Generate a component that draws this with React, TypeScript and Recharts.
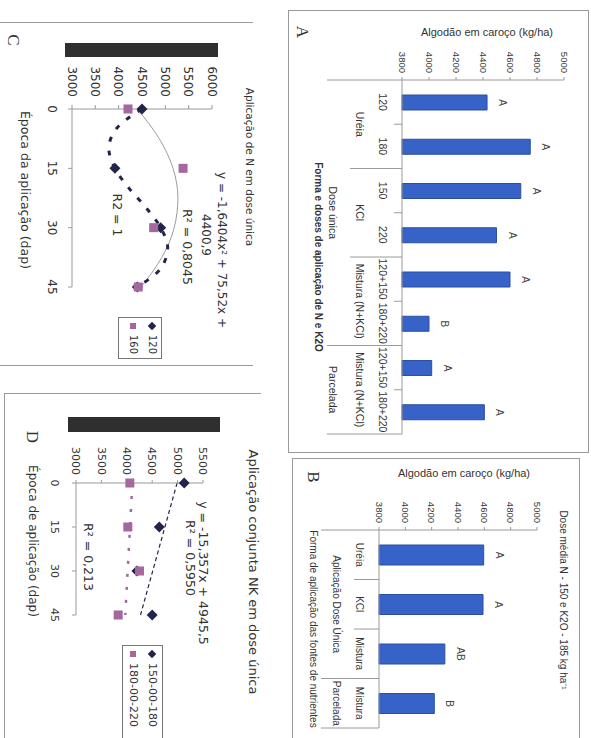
import React from "react";
import { BarChart, Bar, XAxis, YAxis, LabelList, ComposedChart, Line, Scatter } from "recharts";

// Painel A - forma e doses de aplicação de N e K2O
const aDoses = ["120", "180", "150", "220", "120+150", "180+220", "120+150", "180+220"];
const aFontes = ["Uréia", "Uréia", "KCl", "KCl", "Mistura (N+KCl)", "Mistura (N+KCl)", "Mistura (N+KCl)", "Mistura (N+KCl)"];
const aModos = ["Dose única", "Dose única", "Dose única", "Dose única", "Dose única", "Dose única", "Parcelada", "Parcelada"];
const aYield = [4430, 4750, 4680, 4500, 4600, 4000, 4020, 4410];
const aLetters = ["A", "A", "A", "A", "A", "B", "A", "A"];
const yieldTicks = [3800, 4000, 4200, 4400, 4600, 4800, 5000];

// Painel B - fontes de nutrientes
const bFontes = ["Uréia", "KCl", "Mistura", "Mistura"];
const bModos = ["Aplicação Dose Única", "Aplicação Dose Única", "Aplicação Dose Única", "Parcelada"];
const bYield = [4595, 4590, 4300, 4220];
const bLetters = ["A", "A", "AB", "B"];

// Painel C - N em dose única
const epocas = [0, 15, 30, 45];
const c120 = [4500, 3920, 4900, 4400];
const c160 = [4200, 5380, 4750, 4420];
const c120CurveX = [0, 5, 10, 15, 20, 25, 30, 35, 40, 45];
const c120Curve = [4500, 3950, 3790, 3920, 4220, 4590, 4900, 5050, 4920, 4400];
const c160CurveX = [0, 7.5, 15, 22.5, 30, 37.5, 45];
const c160Curve = [4400, 4870, 5165, 5270, 5190, 4925, 4480];
const cTicks = [3000, 3500, 4000, 4500, 5000, 5500, 6000];

// Painel D - NK em dose única
const d150 = [5130, 4640, 4200, 4500];
const d180 = [4060, 4020, 4250, 3830];
const dTrendX = [0, 45];
const d150Trend = [4990, 4270];
const d180Trend = [4110, 3970];
const dTicks = [3000, 3500, 4000, 4500, 5000, 5500];

const FONT = '"Liberation Sans", Arial, sans-serif';
const WIDE = '"DejaVu Sans", Verdana, sans-serif';
const SERIF = '"Liberation Serif", "Times New Roman", serif';
const INK = "#333";
const AXIS = "#9a9a9a";
const BLUE = "#3762C8";
const NAVY = "#22244A";
const PLUM = "#A4679E";

const aData = aDoses.map((d, i) => ({ dose: d, y: aYield[i], letter: aLetters[i] }));
const bData = bFontes.map((f, i) => ({ fonte: f, y: bYield[i], letter: bLetters[i] }));
const pts = (ys: number[], xs: number[] = epocas) => ys.map((y, i) => ({ x: xs[i], y }));

function Txt({ x, y, size = 11, rot = 0, bold = false, family = FONT, color = INK, children }: any) {
  return (
    <div
      style={{
        position: "absolute",
        left: x,
        top: y,
        transform: `translate(-50%, -50%) rotate(${rot}deg)`,
        fontSize: size,
        fontWeight: bold ? 700 : 400,
        fontFamily: family,
        color,
        whiteSpace: "nowrap",
        lineHeight: 1,
      }}
    >
      {children}
    </div>
  );
}

type CatCfg = { levels: string[][]; rows: number[]; lines: number[]; band: number; axisY: number; size: number };

// eixo de categorias em vários níveis, como no Excel
function catTick(cfg: CatCfg) {
  const key = (L: number, i: number) => cfg.levels.slice(L).map((l) => l[i]).join("|");
  const n = cfg.levels[0].length;
  return (p: any) => {
    const i: number = p.index ?? p.payload?.index ?? 0;
    const x: number = p.x;
    const left = x - cfg.band / 2;
    const y0 = cfg.axisY;
    let depth = 0;
    for (let L = 1; L < cfg.levels.length; L++) if (i === 0 || key(L, i) !== key(L, i - 1)) depth = L;
    const full = cfg.lines[cfg.lines.length - 1];
    const out: any[] = [];
    out.push(<line key="l" x1={left} x2={left} y1={y0} y2={y0 + (i === 0 ? full : cfg.lines[depth])} stroke={AXIS} />);
    if (i === n - 1) out.push(<line key="r" x1={left + cfg.band} x2={left + cfg.band} y1={y0} y2={y0 + full} stroke={AXIS} />);
    out.push(
      <text key="t0" x={x} y={y0 + cfg.rows[0]} textAnchor="middle" dominantBaseline="central" fontSize={cfg.size} fill={INK}>
        {cfg.levels[0][i]}
      </text>
    );
    for (let L = 1; L < cfg.levels.length; L++) {
      if (i === 0 || key(L, i) !== key(L, i - 1)) {
        let m = 1;
        while (i + m < n && key(L, i + m) === key(L, i)) m++;
        out.push(
          <text key={"t" + L} x={left + (m * cfg.band) / 2} y={y0 + cfg.rows[L]} textAnchor="middle" dominantBaseline="central" fontSize={cfg.size} fill={INK}>
            {cfg.levels[L][i]}
          </text>
        );
      }
    }
    return <g>{out}</g>;
  };
}

const diamond = (p: any) => (
  <path d={`M${p.cx},${p.cy - 5.5}L${p.cx + 5.5},${p.cy}L${p.cx},${p.cy + 5.5}L${p.cx - 5.5},${p.cy}Z`} fill={NAVY} />
);
const square = (p: any) => <rect x={p.cx - 4.5} y={p.cy - 4.5} width={9} height={9} fill={PLUM} />;

const edge = (s: any) => <div style={{ position: "absolute", boxSizing: "border-box", ...s }} />;
const LINE = `1.5px solid ${AXIS}`;

function PanelA() {
  return (
    <div style={{ position: "absolute", left: 10, top: 0, width: 445, height: 305 }}>
      <BarChart width={445} height={305} data={aData} margin={{ top: 27, right: 21, bottom: 16, left: 30 }} barSize={15}>
        <XAxis
          dataKey="dose"
          interval={0}
          height={100}
          tickLine={false}
          axisLine={{ stroke: AXIS }}
          tick={catTick({ levels: [aDoses, aFontes, aModos], rows: [19, 42, 69], lines: [8, 52, 75], band: 354 / 8, axisY: 189, size: 10.5 })}
        />
        <YAxis domain={[3800, 5000]} ticks={yieldTicks} width={40} tickSize={3} tickMargin={4} axisLine={{ stroke: AXIS }} tickLine={{ stroke: AXIS }} tick={{ fontSize: 9.5, fill: INK }} />
        <Bar dataKey="y" fill={BLUE} stroke="#2B509F" isAnimationActive={false}>
          <LabelList dataKey="letter" position="top" offset={12} style={{ fontSize: 10, fill: "#444" }} />
        </Bar>
      </BarChart>
    </div>
  );
}

function PanelB() {
  return (
    <div style={{ position: "absolute", left: 458, top: 8, width: 280, height: 292 }}>
      <BarChart width={280} height={292} data={bData} margin={{ top: 46, right: 10, bottom: 12, left: 32 }} barSize={20}>
        <XAxis
          dataKey="fonte"
          interval={0}
          height={76}
          tickLine={false}
          axisLine={{ stroke: AXIS }}
          tick={catTick({ levels: [bFontes, bModos], rows: [20, 43], lines: [25, 58], band: 198 / 4, axisY: 204, size: 10 })}
        />
        <YAxis domain={[3800, 5000]} ticks={yieldTicks} width={40} tickSize={3} tickMargin={4} axisLine={{ stroke: AXIS }} tickLine={{ stroke: AXIS }} tick={{ fontSize: 9.5, fill: INK }} />
        <Bar dataKey="y" fill={BLUE} stroke="#2B509F" isAnimationActive={false}>
          <LabelList dataKey="letter" position="top" offset={12} style={{ fontSize: 10, fill: "#444" }} />
        </Bar>
      </BarChart>
    </div>
  );
}

function PanelC() {
  return (
    <div style={{ position: "absolute", left: 22, top: 336, width: 343, height: 255 }}>
      <ComposedChart width={343} height={255} margin={{ top: 43, right: 78, bottom: 42, left: 37 }}>
        <XAxis type="number" dataKey="x" domain={[0, 45]} ticks={epocas} height={30} tickSize={4} tickMargin={11} axisLine={{ stroke: AXIS }} tickLine={{ stroke: AXIS }} tick={{ fontSize: 12, fill: INK, fontFamily: WIDE }} />
        <YAxis type="number" dataKey="y" domain={[3000, 6000]} ticks={cTicks} width={50} tickSize={4} tickMargin={8} axisLine={{ stroke: AXIS }} tickLine={{ stroke: AXIS }} tick={{ fontSize: 12, fill: INK, fontFamily: WIDE }} />
        <Line data={pts(c160Curve, c160CurveX)} dataKey="y" type="monotone" stroke="#9b9b9b" strokeWidth={1} dot={false} activeDot={false} isAnimationActive={false} />
        <Line data={pts(c120Curve, c120CurveX)} dataKey="y" type="monotone" stroke={NAVY} strokeWidth={3} strokeDasharray="5 9" dot={false} activeDot={false} isAnimationActive={false} />
        <Scatter data={pts(c120)} shape={diamond} isAnimationActive={false} />
        <Scatter data={pts(c160)} shape={square} isAnimationActive={false} />
      </ComposedChart>
    </div>
  );
}

function PanelD() {
  return (
    <div style={{ position: "absolute", left: 393, top: 330, width: 345, height: 256 }}>
      <ComposedChart width={345} height={256} margin={{ top: 58, right: 123, bottom: 41, left: 40 }}>
        <XAxis type="number" dataKey="x" domain={[0, 45]} ticks={epocas} height={30} tickSize={4} tickMargin={13} axisLine={{ stroke: AXIS }} tickLine={{ stroke: AXIS }} tick={{ fontSize: 11, fill: INK, fontFamily: WIDE }} />
        <YAxis type="number" dataKey="y" domain={[3000, 5500]} ticks={dTicks} width={50} tickSize={3} tickMargin={5} axisLine={{ stroke: AXIS }} tickLine={{ stroke: AXIS }} tick={{ fontSize: 11, fill: INK, fontFamily: WIDE }} />
        <Line data={pts(d150Trend, dTrendX)} dataKey="y" type="linear" stroke={NAVY} strokeWidth={1.2} strokeDasharray="4 3" dot={false} activeDot={false} isAnimationActive={false} />
        <Line data={pts(d180Trend, dTrendX)} dataKey="y" type="linear" stroke={PLUM} strokeWidth={2.5} strokeDasharray="3 10" dot={false} activeDot={false} isAnimationActive={false} />
        <Scatter data={pts(d150)} shape={diamond} isAnimationActive={false} />
        <Scatter data={pts(d180)} shape={square} isAnimationActive={false} />
      </ComposedChart>
    </div>
  );
}

function Legend({ left, top, width, height, items, size }: any) {
  return (
    <div style={{ position: "absolute", left, top, width, height, border: "1px solid #777", boxSizing: "border-box", fontFamily: WIDE, fontSize: size, color: INK }}>
      {items.map((it: any, k: number) => (
        <div key={k} style={{ position: "absolute", left: 5, top: 4 + k * 19, display: "flex", alignItems: "center", whiteSpace: "nowrap", lineHeight: 1 }}>
          <span style={{ display: "inline-block", width: 6, height: 6, background: it.color, transform: it.diamond ? "rotate(45deg)" : "none", marginRight: 6 }} />
          {it.label}
        </div>
      ))}
    </div>
  );
}

export default function App() {
  return (
    <div style={{ position: "fixed", left: 0, top: 0, width: 591, height: 738, overflow: "hidden", background: "#fff" }}>
      <div style={{ position: "absolute", left: 0, top: 0, width: 738, height: 591, transformOrigin: "0 0", transform: "translate(591px, 0) rotate(90deg)", fontFamily: FONT }}>
        {edge({ left: 10, top: 2, width: 443, height: 301, border: LINE })}
        {edge({ left: 458, top: 11, width: 290, height: 288, border: LINE })}
        {edge({ left: 22, top: 338, width: 344, height: 260, borderLeft: LINE, borderRight: LINE })}
        {edge({ left: 393, top: 330, width: 360, height: 257, borderLeft: LINE, borderBottom: LINE })}

        <PanelA />
        <Txt x={32} y={104} size={11} rot={-90}>Algodão em caroço (kg/ha)</Txt>
        <Txt x={257} y={273} size={10} bold>Forma e doses de aplicação de N e K2O</Txt>
        <Txt x={32} y={289} size={17} family={SERIF}>A</Txt>

        <PanelB />
        <Txt x={473} y={127} size={11} rot={-90}>Algodão em caroço (kg/ha)</Txt>
        <Txt x={600} y={28} size={10}>Dose média N - 150 e K2O - 185 kg ha⁻¹</Txt>
        <Txt x={629} y={278} size={10}>Forma de aplicação das fontes de nutrientes</Txt>
        <Txt x={477} y={278} size={17} family={SERIF}>B</Txt>

        <PanelC />
        <div style={{ position: "absolute", left: 43, top: 373, width: 14, height: 153, background: "#2f2f2f" }} />
        <Txt x={167} y={341} size={10.5} family={WIDE}>Aplicação de N em dose única</Txt>
        <Txt x={250} y={369} size={12} family={WIDE}>y = -1,6404x² + 75,52x +</Txt>
        <Txt x={235} y={385} size={12} family={WIDE}>4400,9</Txt>
        <Txt x={247} y={404} size={12.5} family={WIDE}>R² = 0,8045</Txt>
        <Txt x={215} y={474} size={12.5} family={WIDE}>R2 = 1</Txt>
        <Txt x={190} y={566} size={12.5} family={WIDE}>Época da aplicação (dap)</Txt>
        <Txt x={40} y={578} size={17} family={SERIF}>C</Txt>
        <Legend left={317} top={429} width={42} height={44} size={10} items={[{ label: "120", color: NAVY, diamond: true }, { label: "160", color: PLUM }]} />

        <PanelD />
        <div style={{ position: "absolute", left: 417, top: 371, width: 15, height: 152, background: "#2f2f2f" }} />
        <Txt x={572} y={338} size={13} family={WIDE}>Aplicação conjunta NK em dose única</Txt>
        <Txt x={573} y={388} size={12.5} family={WIDE}>y = -15,357x + 4945,5</Txt>
        <Txt x={558} y={401} size={12.5} family={WIDE}>R² = 0,5950</Txt>
        <Txt x={557} y={503} size={12.5} family={WIDE}>R² = 0,213</Txt>
        <Txt x={541} y={558} size={12} family={WIDE}>Época de aplicação (dap)</Txt>
        <Txt x={437} y={559} size={17} family={SERIF}>D</Txt>
        <Legend left={645} top={428} width={100} height={41} size={11} items={[{ label: "150-00-180", color: NAVY, diamond: true }, { label: "180-00-220", color: PLUM }]} />
      </div>
    </div>
  );
}
